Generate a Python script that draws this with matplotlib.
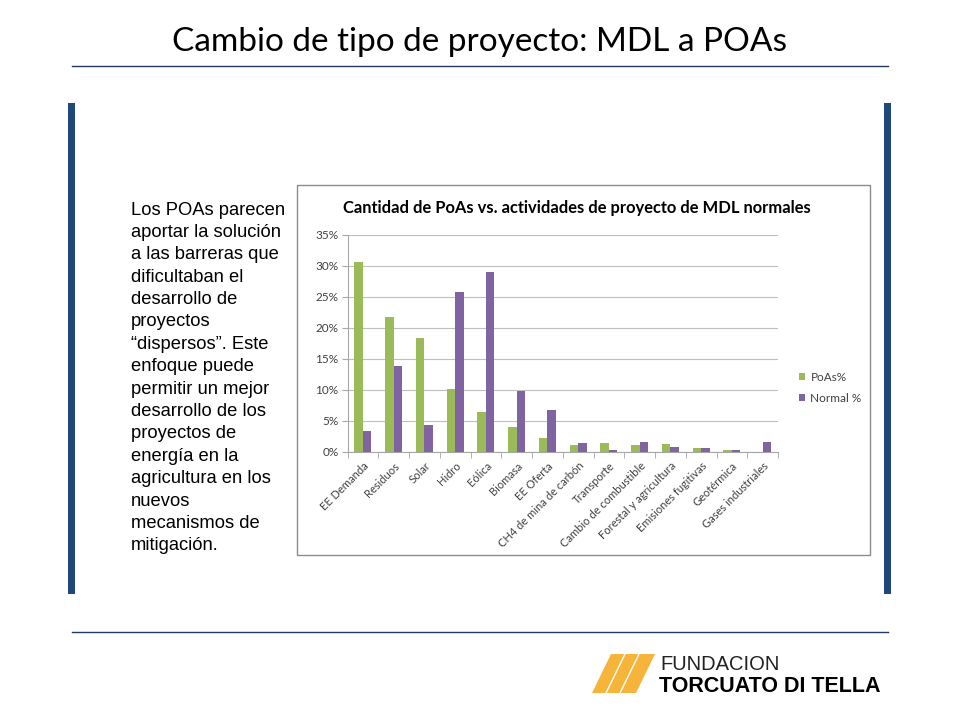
import matplotlib
matplotlib.use("Agg")
import matplotlib.pyplot as plt
import numpy as np
from matplotlib.patches import Rectangle, Polygon
from matplotlib.ticker import MultipleLocator, PercentFormatter

categories = ["EE Demanda", "Residuos", "Solar", "Hidro", "Eólica", "Biomasa", "EE Oferta",
              "CH4 de mina de carbón", "Transporte", "Cambio de combustible",
              "Forestal y agricultura", "Emisiones fugitivas", "Geotérmica", "Gases industriales"]
poas = [30.6, 21.7, 18.3, 10.2, 6.5, 4.0, 2.2, 1.2, 1.5, 1.2, 1.3, 0.7, 0.25, 0.0]
normal = [3.4, 13.8, 4.3, 25.7, 29.0, 9.8, 6.8, 1.4, 0.4, 1.6, 0.8, 0.7, 0.4, 1.6]
series_names = ["PoAs%", "Normal %"]
slide_title = "Cambio de tipo de proyecto: MDL a POAs"
chart_title = "Cantidad de PoAs vs. actividades de proyecto de MDL normales"
body_lines = ["Los POAs parecen", "aportar la solución", "a las barreras que",
              "dificultaban el", "desarrollo de", "proyectos", "“dispersos”. Este",
              "enfoque puede", "permitir un mejor", "desarrollo de los", "proyectos de",
              "energía en la", "agricultura en los", "nuevos", "mecanismos de", "mitigación."]

GREEN = "#9BBB59"
PURPLE = "#8064A2"
NAVY = "#1F497D"

W, H = 960, 720
fig = plt.figure(figsize=(9.6, 7.2), dpi=100)
fig.patch.set_facecolor("white")

def fx(x):
    return x / W

def fy(y):
    return 1 - y / H

# slide title
fig.text(fx(480), fy(42), slide_title, ha="center", va="center", fontsize=24,
         family="Lato", color="black")
# horizontal rules
fig.add_artist(plt.Line2D([fx(72), fx(888)], [fy(66), fy(66)], color="#1F3864", lw=1.0))
fig.add_artist(plt.Line2D([fx(72), fx(888)], [fy(632), fy(632)], color="#1F3864", lw=1.0))
# vertical blue bars
fig.add_artist(Rectangle((fx(68), fy(594)), 7 / W, (594 - 103) / H, transform=fig.transFigure,
                         color=NAVY, lw=0))
fig.add_artist(Rectangle((fx(884), fy(594)), 7 / W, (594 - 103) / H, transform=fig.transFigure,
                         color=NAVY, lw=0))

# body text
for i, line in enumerate(body_lines):
    fig.text(fx(131), fy(210 + i * 22.4), line, ha="left", va="center", fontsize=13.2,
             family="Liberation Sans", color="black")

# chart frame
frame = Rectangle((fx(297), fy(555)), (870 - 297) / W, (555 - 185) / H,
                  transform=fig.transFigure, facecolor="white", edgecolor="#8C8C8C", lw=1.0,
                  zorder=-5)
fig.add_artist(frame)
fig.text(fx(577), fy(208), chart_title, ha="center", va="center", fontsize=11.9,
         family="Lato", weight="bold", color="black")

ax = fig.add_axes([fx(347.5), fy(452), (778 - 347.5) / W, (452 - 234.5) / H])
ax.set_zorder(2)
x = np.arange(len(categories))
bw = 0.28
ax.bar(x - bw / 2, poas, bw, color=GREEN, label=series_names[0], zorder=3)
ax.bar(x + bw / 2, normal, bw, color=PURPLE, label=series_names[1], zorder=3)
ax.set_xlim(-0.5, len(categories) - 0.5)
ax.set_ylim(0, 35)
ax.yaxis.set_major_locator(MultipleLocator(5))
ax.yaxis.set_major_formatter(PercentFormatter(decimals=0))
ax.grid(axis="y", color="#BFBFBF", lw=0.8, zorder=0)
for s in ["top", "right"]:
    ax.spines[s].set_visible(False)
for s in ["left", "bottom"]:
    ax.spines[s].set_color("#A6A6A6")
    ax.spines[s].set_linewidth(0.8)
ax.set_xticks(x)
ax.set_xticklabels(categories, rotation=45, ha="right", rotation_mode="anchor",
                   fontsize=8, family="Lato", color="#404040")
ax.tick_params(axis="x", length=0, pad=6)
ax.set_xticks(np.arange(-0.5, len(categories), 1), minor=True)
ax.tick_params(axis="x", which="minor", length=4, color="#A6A6A6")
ax.tick_params(axis="y", length=4.5, color="#A6A6A6", labelsize=8.5, labelcolor="#404040", pad=2)
for lbl in ax.get_yticklabels():
    lbl.set_family("Lato")
ax.set_facecolor("none")

leg = fig.legend(handles=ax.get_legend_handles_labels()[0], labels=series_names,
                 loc="center left", bbox_to_anchor=(fx(788), fy(388)), frameon=False,
                 prop={"family": "Lato", "size": 8.5}, handlelength=0.55, handleheight=0.55,
                 handletextpad=0.45, labelspacing=0.85, labelcolor="#404040")

# logo
yellow = "#F6B53A"
x0, x1, x2, x3 = 592, 611, 655, 636  # bottom-left, top-left, top-right, bottom-right
yt, yb = 654, 693
fig.add_artist(Polygon([[fx(x0), fy(yb)], [fx(x1), fy(yt)], [fx(x2), fy(yt)], [fx(x3), fy(yb)]],
                       closed=True, transform=fig.transFigure, color=yellow, lw=0))
for off in [14, 28]:
    fig.add_artist(plt.Line2D([fx(x0 + off), fx(x1 + off)], [fy(yb), fy(yt)], color="white", lw=1.0))
fig.text(fx(660), fy(664), "FUNDACION", ha="left", va="center", fontsize=14.5,
         family="Liberation Sans", color="#222222")
fig.text(fx(659), fy(686), "TORCUATO DI TELLA", ha="left", va="center", fontsize=15.5,
         family="Liberation Sans", weight="bold", color="black")

fig.savefig("out.png", dpi=100, facecolor="white")
